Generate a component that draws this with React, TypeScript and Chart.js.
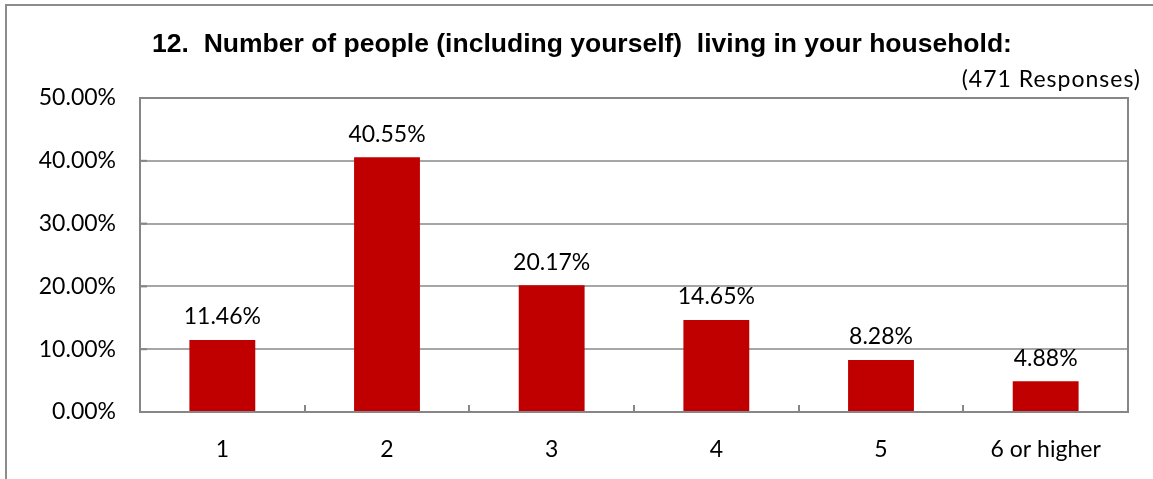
import React, { useEffect, useRef } from "react";
import { Chart, registerables } from "chart.js";

Chart.register(...registerables);

const categories: string[] = ["1", "2", "3", "4", "5", "6 or higher"];
const percentages: number[] = [11.46, 40.55, 20.17, 14.65, 8.28, 4.88];
const valueLabels: string[] = ["11.46%", "40.55%", "20.17%", "14.65%", "8.28%", "4.88%"];
const titleText = "12.  Number of people (including yourself)  living in your household:";
const responsesText = "(471 Responses)";

const LABEL_FONT = "Lato, 'Open Sans', sans-serif";
const LABEL_SIZE = 23;

const decorPlugin = {
  id: "decor",
  beforeDraw(chart: any) {
    const ctx = chart.ctx;
    ctx.save();
    ctx.fillStyle = "#ffffff";
    ctx.fillRect(0, 0, chart.width, chart.height);
    // outer frame
    ctx.strokeStyle = "#8c8c8c";
    ctx.lineWidth = 2;
    ctx.beginPath();
    ctx.moveTo(6, chart.height + 5);
    ctx.lineTo(6, 5);
    ctx.lineTo(chart.width + 5, 5);
    ctx.stroke();
    ctx.restore();
  },
  afterDatasetsDraw(chart: any) {
    const ctx = chart.ctx;
    const area = chart.chartArea;
    const y = chart.scales.y;
    ctx.save();
    // plot border
    ctx.strokeStyle = "#868686";
    ctx.lineWidth = 2;
    ctx.strokeRect(area.left, area.top, area.right - area.left, area.bottom - area.top);
    // y ticks inside
    for (const t of y.ticks) {
      const py = y.getPixelForValue(t.value);
      ctx.beginPath();
      ctx.moveTo(area.left, py);
      ctx.lineTo(area.left + 7, py);
      ctx.stroke();
    }
    // x ticks at category boundaries
    const n = categories.length;
    const w = (area.right - area.left) / n;
    for (let i = 1; i < n; i++) {
      const px = Math.round(area.left + w * i);
      ctx.beginPath();
      ctx.moveTo(px, area.bottom);
      ctx.lineTo(px, area.bottom - 7);
      ctx.stroke();
    }
    // value labels
    const meta = chart.getDatasetMeta(0);
    ctx.fillStyle = "#000000";
    ctx.font = `${LABEL_SIZE}px ${LABEL_FONT}`;
    ctx.textAlign = "center";
    ctx.textBaseline = "middle";
    meta.data.forEach((bar: any, i: number) => {
      ctx.fillText(valueLabels[i], bar.x, bar.y - 23);
    });
    // title
    ctx.font = "bold 26.5px 'Liberation Sans', Arial, sans-serif";
    ctx.textAlign = "center";
    ctx.fillText(titleText, 582, 45);
    // responses
    ctx.font = `${LABEL_SIZE}px ${LABEL_FONT}`;
    ctx.textAlign = "right";
    (ctx as any).letterSpacing = "1px";
    ctx.fillText(responsesText, 1141, 80);
    ctx.restore();
  },
};

export default function App() {
  const ref = useRef<HTMLCanvasElement | null>(null);
  useEffect(() => {
    document.body.style.margin = "0";
    if (!ref.current) return;
    const chart = new Chart(ref.current, {
      type: "bar",
      data: {
        labels: categories,
        datasets: [
          {
            data: percentages,
            backgroundColor: "#C00000",
            barPercentage: 0.4,
            categoryPercentage: 1,
          },
        ],
      },
      options: {
        animation: false,
        responsive: false,
        maintainAspectRatio: false,
        layout: { padding: { left: 0, top: 98, right: 25, bottom: 0 } },
        plugins: {
          legend: { display: false },
          title: { display: false },
          tooltip: { enabled: false },
        },
        scales: {
          x: {
            grid: { display: false },
            border: { display: false },
            ticks: {
              color: "#000000",
              font: { family: LABEL_FONT, size: LABEL_SIZE },
              padding: 16,
              maxRotation: 0,
            },
            afterFit: (s: any) => {
              s.height = 67;
            },
          },
          y: {
            min: 0,
            max: 50,
            grid: { color: "#a6a6a6", lineWidth: 2, drawTicks: false },
            border: { display: false },
            ticks: {
              stepSize: 10,
              color: "#000000",
              font: { family: LABEL_FONT, size: LABEL_SIZE },
              padding: 24,
              callback: (v: any) => Number(v).toFixed(2) + "%",
            },
            afterFit: (s: any) => {
              s.width = 140;
            },
          },
        },
      },
      plugins: [decorPlugin],
    });
    return () => chart.destroy();
  }, []);
  return (
    <div style={{ width: 1153, height: 479 }}>
      <canvas ref={ref} width={1153} height={479} style={{ display: "block" }} />
    </div>
  );
}
